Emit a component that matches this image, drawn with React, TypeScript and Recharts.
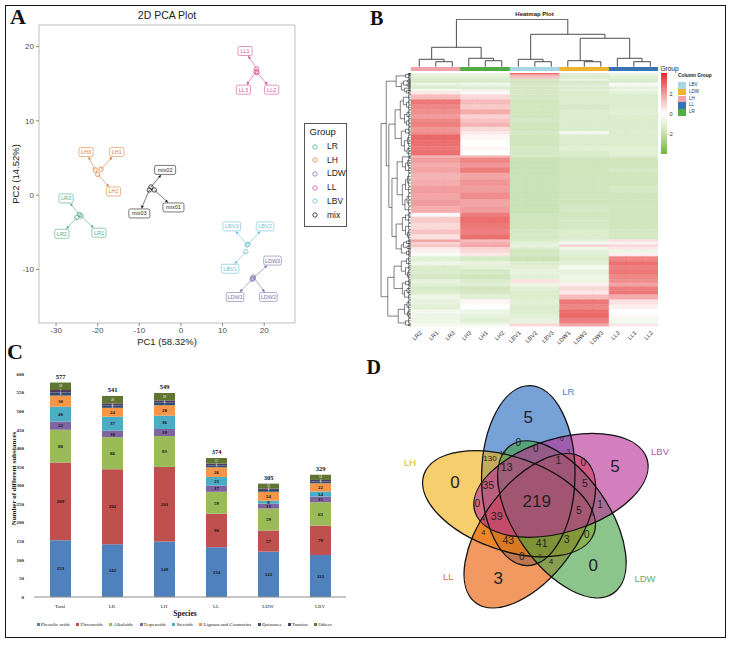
import React from 'react';
import {
  ScatterChart,
  Scatter,
  XAxis,
  YAxis,
  ReferenceLine,
  ReferenceArea,
  BarChart,
  Bar,
  Cell,
  LabelList,
} from 'recharts';

const SANS = '"Liberation Sans", Arial, sans-serif';
const SERIF = '"Liberation Serif", "Times New Roman", serif';

// ---------------------------------------------------------------------------
// A — PCA scores
// ---------------------------------------------------------------------------
const pcaGroups = ['LR', 'LH', 'LDW', 'LL', 'LBV', 'mix'];
const pcaNames = ['LR1', 'LR2', 'LR3', 'LH1', 'LH2', 'LH3', 'mix01', 'mix02', 'mix03',
  'LBV1', 'LBV2', 'LBV3', 'LDW1', 'LDW2', 'LDW3', 'LL1', 'LL2', 'LL3'];
const pcaGroupOf = ['LR', 'LR', 'LR', 'LH', 'LH', 'LH', 'mix', 'mix', 'mix',
  'LBV', 'LBV', 'LBV', 'LDW', 'LDW', 'LDW', 'LL', 'LL', 'LL'];
const pc1 = [-24.0, -25.0, -24.4, -19.2, -20.0, -20.6, -6.4, -7.2, -7.6,
  15.6, 16.1, 15.9, 17.1, 17.4, 17.3, 18.2, 18.3, 18.0];
const pc2 = [-2.8, -3.0, -2.6, 3.5, 2.8, 3.4, 0.7, 1.1, 0.7,
  -7.6, -6.6, -6.7, -11.3, -11.0, -11.2, 17.0, 16.5, 16.6];
// where the repelled sample labels sit (PC units)
const labelPC1 = [-19.7, -28.6, -27.6, -15.4, -16.2, -22.8, -1.8, -3.8, -10.0,
  11.8, 20.2, 12.2, 13.0, 21.0, 22.0, 15.4, 21.8, 15.0];
const labelPC2 = [-5.05, -5.2, -0.44, 5.8, 0.5, 5.8, -1.65, 3.4, -2.46,
  -9.9, -4.2, -4.2, -13.7, -13.7, -8.8, 19.4, 14.2, 14.2];

const pcaColors: Record<string, string> = {
  LR: '#4dab84',
  LH: '#df8140',
  LDW: '#7a73ad',
  LL: '#d64f97',
  LBV: '#6cc0d6',
  mix: '#1f1f1f',
};

const PCA_X: [number, number] = [-34.1, 27.4];
const PCA_Y: [number, number] = [-17.2, 22.9];
const PX_X = 256 / (PCA_X[1] - PCA_X[0]);
const PX_Y = 298 / (PCA_Y[1] - PCA_Y[0]);

const boxWidth = (name: string) => name.length * 3.4 + 4;

const arrows = pcaNames.map((name, i) => {
  const hw = boxWidth(name) / 2 + 0.6;
  const hh = 5;
  const dxp = (pc1[i] - labelPC1[i]) * PX_X;
  const dyp = (pc2[i] - labelPC2[i]) * PX_Y;
  const t = Math.min(hw / Math.max(Math.abs(dxp), 1e-6), hh / Math.max(Math.abs(dyp), 1e-6));
  return {
    group: pcaGroupOf[i],
    from: { x: pc1[i], y: pc2[i] },
    to: { x: labelPC1[i] + t * (pc1[i] - labelPC1[i]), y: labelPC2[i] + t * (pc2[i] - labelPC2[i]) },
    show: t < 1,
  };
});

const labelData = pcaNames.map((name, i) => ({ x: labelPC1[i], y: labelPC2[i], name, group: pcaGroupOf[i] }));

const LabelBox = (props: any) => {
  const { cx, cy, payload } = props;
  const c = pcaColors[payload.group];
  const w = boxWidth(payload.name);
  return (
    <g>
      <rect x={cx - w / 2} y={cy - 4.5} width={w} height={9} rx={1.6} fill="#fff" stroke={c} strokeWidth={0.6} />
      <text x={cx} y={cy} dy="0.36em" textAnchor="middle" fontSize={5.5} fontFamily={SANS} fill={c}>
        {payload.name}
      </text>
    </g>
  );
};

function PcaPanel() {
  const axisTick = { fontSize: 8, fill: '#4d4d4d', fontFamily: SANS };
  return (
    <ScatterChart width={300} height={350} margin={{ top: 25, right: 5, bottom: 0, left: 0 }}>
      <XAxis type="number" dataKey="x" domain={PCA_X} ticks={[-30, -20, -10, 0, 10, 20]} allowDataOverflow
        axisLine={false} tickLine={{ stroke: '#8c8c8c' }} tickSize={3} tickMargin={1} tick={axisTick} height={27} />
      <YAxis type="number" dataKey="y" domain={PCA_Y} ticks={[-10, 0, 10, 20]} allowDataOverflow
        axisLine={false} tickLine={{ stroke: '#8c8c8c' }} tickSize={3} tick={axisTick} width={39} />
      <ReferenceArea x1={PCA_X[0]} x2={PCA_X[1]} y1={PCA_Y[0]} y2={PCA_Y[1]} fill="none" fillOpacity={0}
        stroke="#bdbdbd" strokeWidth={1} ifOverflow="visible" />
      {arrows.filter((a) => a.show).map((a, i) => (
        <ReferenceLine key={`ar${i}`} segment={[a.from, a.to]} stroke={pcaColors[a.group]} strokeWidth={0.6}
          markerEnd={`url(#arrow-${a.group})`} ifOverflow="visible" />
      ))}
      {pcaGroups.map((g) => (
        <Scatter key={g} isAnimationActive={false}
          data={pcaNames.map((n, i) => ({ x: pc1[i], y: pc2[i], g: pcaGroupOf[i] })).filter((d) => d.g === g)}
          shape={(p: any) => <circle cx={p.cx} cy={p.cy} r={2.2} fill="none" stroke={pcaColors[g]} strokeWidth={0.8} />} />
      ))}
      <Scatter data={labelData} isAnimationActive={false} shape={LabelBox} />
    </ScatterChart>
  );
}

// ---------------------------------------------------------------------------
// B — heatmap (row bands of z-scores per group) and dendrograms
// ---------------------------------------------------------------------------
const heatSamples = ['LR2', 'LR1', 'LR3', 'LH3', 'LH1', 'LH2', 'LBV1', 'LBV2', 'LBV3',
  'LDW1', 'LDW2', 'LDW3', 'LL3', 'LL1', 'LL2'];
const heatSampleGroup = [0, 0, 0, 1, 1, 1, 2, 2, 2, 3, 3, 3, 4, 4, 4];
const heatGroupColors = ['#f2a2aa', '#52ab45', '#a8d7e3', '#f1b431', '#3873b4'];

// rows per band
const heatRows = [4, 4, 10, 6, 6, 6, 6, 7, 6, 10, 15, 15, 15, 15, 12, 13, 12, 13, 10, 18,
  17, 14, 14, 7, 15, 15, 15, 20, 20, 20, 20, 20, 20, 12, 18, 20, 15, 15, 8, 7,
  8, 7, 10, 10, 15, 13, 12, 15, 15, 10, 10, 13, 12, 15, 15, 15, 13, 12, 17, 8];
const heatLR = [-0.3, -0.4, -0.5, -0.6, -0.7, -0.3, -0.5, -0.6, -0.2, 0.3, 0.9, 1.8, 1.6, 1.5, 1.3, 1.6, 1.7, 1.4, 1.5, 2.0,
  1.9, 1.8, 1.9, 1.0, 1.3, 1.1, 1.2, 1.0, 1.1, 1.3, 1.2, 1.3, 1.1, 0.1, 0.7, 0.5, 0.8, 0.4, 1.2, 0.6,
  0.8, 0.3, 0.2, -0.1, -0.5, -0.3, -0.6, -0.6, -0.7, -0.4, -0.5, -0.7, -0.6, -0.3, -0.4, -0.5, -0.2, -0.3, -0.3, -0.2];
const heatLH = [-0.3, -0.4, -0.5, -0.6, -0.6, -0.2, -0.4, -0.6, -0.3, 0.1, 0.5, 0.9, 0.7, 1.1, 0.6, 0.8, 1.0, 0.5, 0.3, 0.1,
  0.0, 0.1, 0.0, 1.0, 1.6, 1.4, 1.7, 1.2, 1.4, 1.3, 1.5, 1.2, 1.3, 1.7, 1.9, 1.8, 1.7, 1.9, 0.9, 1.1,
  1.2, 0.6, 0.5, 0.3, -0.7, -0.4, -0.5, -0.7, -0.8, -0.6, -0.5, -0.8, -0.7, -0.5, 0.1, 0.0, -0.3, -0.4, -0.5, -0.2];
const heatLBV = [1.9, 1.4, 0.8, -0.7, -0.8, -0.7, -0.6, -0.7, -0.7, -0.7, -0.7, -0.8, -0.8, -0.8, -0.8, -0.7, -0.8, -0.8, -0.7, -0.8,
  -0.8, -0.7, -0.7, -0.7, -0.9, -0.9, -0.9, -0.9, -0.9, -0.9, -0.9, -0.9, -0.9, -0.8, -0.8, -0.8, -0.7, -0.7, -0.6, -0.5,
  -0.4, -0.6, -0.8, -0.7, -0.9, -0.6, -0.5, -0.4, -0.5, 0.4, -0.3, -0.5, -0.6, -0.6, -0.5, -0.6, -0.6, -0.5, -0.4, 0.5];
const heatLDW = [-0.5, -0.6, -0.6, -0.3, -0.7, -0.6, -0.5, -0.6, -0.5, -0.6, -0.6, -0.6, -0.7, -0.6, -0.6, -0.6, -0.6, -0.6, -0.2, -0.6,
  -0.6, -0.5, -0.6, -0.7, -0.8, -0.8, -0.8, -0.8, -0.8, -0.8, -0.8, -0.8, -0.7, -0.8, -0.7, -0.7, -0.6, -0.6, -0.4, -0.2,
  0.6, -0.3, -0.4, -0.5, -0.6, -0.5, -0.2, -0.4, -0.3, -0.3, 0.2, 0.5, 0.3, 0.9, 1.8, 1.6, 1.9, 2.0, 1.7, 1.2];
const heatLL = [-0.4, -0.3, -0.5, -0.6, -0.6, 0.1, -0.2, -0.5, -0.3, -0.5, -0.6, -0.6, -0.6, -0.5, -0.6, -0.6, -0.6, -0.6, -0.6, -0.6,
  -0.6, -0.5, -0.5, -0.6, -0.8, -0.8, -0.7, -0.8, -0.8, -0.7, -0.8, -0.8, -0.8, -0.8, -0.8, -0.8, -0.7, -0.7, 0.4, 0.2,
  0.5, 0.3, -0.3, 0.2, 1.6, 1.9, 1.7, 1.8, 1.6, 1.5, 1.2, 1.7, 1.8, 1.1, 0.4, 0.2, 0.0, 0.1, -0.2, 0.3];
const heatByGroup = [heatLR, heatLH, heatLBV, heatLDW, heatLL];

type Tree = number | [Tree, Tree, number];
// sample clustering (heights in px above the group bar)
const colTree: Tree = [
  [[0, [1, 2, 5.0], 7.4], [3, [4, 5, 6.0], 8.4], 19.4],
  [[6, [7, 8, 5.0], 7.4], [[9, [10, 11, 5.0], 6.0], [12, [13, 14, 5.0], 8.4], 28.4], 32.4],
  47.4,
];
// metabolite clustering over the row bands
const rowTree: Tree = [
  [
    [[[0, 1, 2.5], 2, 5], [[[3, 4, 3], [5, 6, 3.5], 7], [7, [8, 9, 4], 6], 9], 14],
    [
      [[[10, [11, 12, 4], 7], [[13, 14, 3.5], [15, 16, 4], 6], 10], [[17, 18, 5], [[19, 20, 3], [21, 22, 3.5], 6], 9], 15],
      [
        [[23, [[24, 25, 3], 26, 5], 8], [[[27, 28, 3], 29, 5], [[30, 31, 3.5], 32, 5.5], 8], 13],
        [[[33, 34, 5], [35, [36, 37, 3], 5], 8], [[[38, 39, 4], [40, 41, 3.5], 7], [42, 43, 4], 9], 14],
        18,
      ],
      21,
    ],
    23.5,
  ],
  [
    [[[44, 45, 4], [46, [47, 48, 3], 5], 9], [[49, 50, 5], [[51, 52, 3.5], 53, 6], 8], 16],
    [[[54, 55, 3.5], [56, 57, 3], 6], [58, 59, 5], 12],
    22,
  ],
  28.5,
];

const ROW_UNITS = heatRows.reduce((a, b) => a + b, 0);
const bandTop: number[] = [];
heatRows.reduce((acc, r, i) => { bandTop[i] = acc; return acc + r; }, 0);

type Seg = [number, number, number, number]; // pos1, h1, pos2, h2
function walkTree(node: Tree, leafPos: (i: number) => number, leafH: number, segs: Seg[]): { p: number; h: number } {
  if (typeof node === 'number') return { p: leafPos(node), h: leafH };
  const a = walkTree(node[0], leafPos, leafH, segs);
  const b = walkTree(node[1], leafPos, leafH, segs);
  const h = node[2];
  segs.push([a.p, a.h, a.p, h], [b.p, b.h, b.p, h], [a.p, h, b.p, h]);
  return { p: (a.p + b.p) / 2, h };
}

const colSegs: Seg[] = [];
walkTree(colTree, (i) => i, 0, colSegs);

const LEAF_H = 2;
const rowSegs: Seg[] = [];
walkTree(rowTree, (i) => bandTop[i] + heatRows[i] / 2, LEAF_H, rowSegs);
heatRows.forEach((r, i) => {
  const t = bandTop[i] + 1.5;
  const b = bandTop[i] + r - 1.5;
  const m = bandTop[i] + r / 2;
  rowSegs.push([t, LEAF_H, b, LEAF_H], [t, LEAF_H, t, 0], [m, LEAF_H, m, 0], [b, LEAF_H, b, 0]);
});

const RED = [228, 52, 52];
const GREEN = [116, 181, 60];
function heatColor(v: number) {
  const end = v >= 0 ? RED : GREEN;
  const t = Math.min(Math.abs(v) / (v >= 0 ? 2.7 : 2.4), 1);
  const c = end.map((e) => Math.round(255 + (e - 255) * t));
  return `rgb(${c[0]},${c[1]},${c[2]})`;
}

const heatData = heatSamples.map((s) => {
  const row: Record<string, string | number> = { sample: s };
  heatRows.forEach((r, i) => { row[`b${i}`] = r; });
  return row;
});

const HM_LEFT = 410.7;
const HM_TOP = 73.3;
const HM_W = 247.6;
const HM_H = 253.4;

function Heatmap() {
  return (
    <BarChart width={HM_W} height={HM_H + 24} data={heatData} margin={{ top: 0, right: 0, bottom: 0, left: 0 }}
      barCategoryGap={0}>
      <XAxis dataKey="sample" height={24} interval={0} tickLine={false} axisLine={false} tickSize={3} tickMargin={1}
        tick={{ fontSize: 5.8, fill: '#333', fontFamily: SANS, angle: -45, textAnchor: 'end' }} />
      <YAxis hide type="number" domain={[0, ROW_UNITS]} reversed allowDataOverflow />
      {heatRows.map((_, i) => (
        <Bar key={i} dataKey={`b${i}`} stackId="h" isAnimationActive={false}>
          {heatSamples.map((s, j) => {
            const col = heatColor(heatByGroup[heatSampleGroup[j]][i]);
            return <Cell key={s} fill={col} stroke={col} strokeWidth={0.5} />;
          })}
        </Bar>
      ))}
    </BarChart>
  );
}

function GroupBar() {
  return (
    <BarChart width={HM_W} height={4} data={heatSamples.map((s) => ({ sample: s, v: 1 }))}
      margin={{ top: 0, right: 0, bottom: 0, left: 0 }} barCategoryGap={0}>
      <XAxis hide dataKey="sample" />
      <YAxis hide type="number" domain={[0, 1]} />
      <Bar dataKey="v" isAnimationActive={false}>
        {heatSamples.map((s, j) => {
          const c = heatGroupColors[heatSampleGroup[j]];
          return <Cell key={s} fill={c} stroke={c} strokeWidth={0.4} />;
        })}
      </Bar>
    </BarChart>
  );
}

function ColDendro() {
  return (
    <ScatterChart width={HM_W} height={47.7} margin={{ top: 0, right: 0, bottom: 0, left: 0 }}>
      <XAxis hide type="number" dataKey="x" domain={[-0.5, 14.5]} allowDataOverflow />
      <YAxis hide type="number" dataKey="y" domain={[0, 47.7]} allowDataOverflow />
      <Scatter data={[{ x: 0, y: 0 }]} isAnimationActive={false} shape={() => <g />} />
      {colSegs.map((s, i) => (
        <ReferenceLine key={i} segment={[{ x: s[0], y: s[1] }, { x: s[2], y: s[3] }]} stroke="#3a3a3a"
          strokeWidth={0.9} ifOverflow="visible" />
      ))}
    </ScatterChart>
  );
}

function RowDendro() {
  return (
    <ScatterChart width={30.7} height={HM_H} margin={{ top: 0, right: 0, bottom: 0, left: 0 }}>
      <XAxis hide type="number" dataKey="x" domain={[0, 29.5]} reversed allowDataOverflow />
      <YAxis hide type="number" dataKey="y" domain={[0, ROW_UNITS]} reversed allowDataOverflow />
      <Scatter data={[{ x: 0, y: 0 }]} isAnimationActive={false} shape={() => <g />} />
      {rowSegs.map((s, i) => (
        <ReferenceLine key={i} segment={[{ x: s[1], y: s[0] }, { x: s[3], y: s[2] }]} stroke="#1a1a1a"
          strokeWidth={0.55} ifOverflow="visible" />
      ))}
    </ScatterChart>
  );
}

// ---------------------------------------------------------------------------
// C — classes of substances per species
// ---------------------------------------------------------------------------
const speciesNames = ['Total', 'LR', 'LH', 'LL', 'LDW', 'LBV'];
const phenolicAcids = [153, 142, 149, 134, 122, 113];
const flavonoids = [209, 202, 201, 90, 57, 79];
const alkaloids = [88, 86, 83, 59, 59, 63];
const terpenoids = [22, 18, 19, 17, 13, 15];
const steroids = [40, 37, 36, 23, 8, 14];
const lignansCoumarins = [30, 24, 28, 26, 24, 22];
const quinones = [8, 6, 7, 5, 5, 5];
const tannins = [7, 6, 6, 5, 4, 4];
const others = [20, 20, 20, 15, 13, 14];

const classSeries = [
  { key: 'phenolic', name: 'Phenolic acids', values: phenolicAcids, color: '#4f81bd' },
  { key: 'flavonoids', name: 'Flavonoids', values: flavonoids, color: '#c0504d' },
  { key: 'alkaloids', name: 'Alkaloids', values: alkaloids, color: '#9bbb59' },
  { key: 'terpenoids', name: 'Terpenoids', values: terpenoids, color: '#8064a2' },
  { key: 'steroids', name: 'Steroids', values: steroids, color: '#4bacc6' },
  { key: 'lignans', name: 'Lignans and Coumarins', values: lignansCoumarins, color: '#f79646' },
  { key: 'quinones', name: 'Quinones', values: quinones, color: '#2c4d75' },
  { key: 'tannins', name: 'Tannins', values: tannins, color: '#4d3b62' },
  { key: 'others', name: 'Others', values: others, color: '#5f7530' },
];

const classRows = speciesNames.map((s, i) => {
  const row: Record<string, string | number> = { species: s };
  let total = 0;
  classSeries.forEach((c) => { row[c.key] = c.values[i]; total += c.values[i]; });
  row.total = total;
  return row;
});

function ClassBars() {
  const last = classSeries.length - 1;
  return (
    <BarChart width={360} height={300} data={classRows} margin={{ top: 34, right: 14, bottom: 0, left: 0 }} barSize={21}>
      <XAxis dataKey="species" height={43} interval={0} tickLine={false} axisLine={{ stroke: '#8a8a8a' }} tickSize={5}
        tickMargin={2} tick={{ fontSize: 5, fill: '#222', fontFamily: SERIF }} />
      <YAxis type="number" domain={[0, 600]} ticks={[0, 50, 100, 150, 200, 250, 300, 350, 400, 450, 500, 550, 600]}
        width={34} axisLine={false} tickLine={false} tickMargin={4}
        tick={{ fontSize: 5, fontWeight: 'bold', fill: '#222', fontFamily: SERIF }} />
      {classSeries.map((c, i) => (
        <Bar key={c.key} dataKey={c.key} stackId="s" fill={c.color} isAnimationActive={false}>
          <LabelList dataKey={c.key} position="center" fontSize={i >= 6 ? 3 : 5} fontWeight="bold"
            fill={i >= 6 ? '#ddd' : '#111'} fontFamily={SERIF} />
          {i === last && (
            <LabelList dataKey="total" position="top" offset={4} fontSize={6.5} fontWeight="bold" fill="#111"
              fontFamily={SERIF} />
          )}
        </Bar>
      ))}
    </BarChart>
  );
}

// ---------------------------------------------------------------------------
// D — five-set Venn
// ---------------------------------------------------------------------------
const vennSets = ['LR', 'LBV', 'LDW', 'LL', 'LH'];
const vennFill = ['#2269bf', '#b83094', '#45a245', '#e95b00', '#f1b013'];
const vennText = ['#4a86c8', '#c050a0', '#5fb060', '#e07040', '#e2b02e'];
// one ellipse, turned by 72 degrees for each set (px, y up, about the figure centre)
const VENN_A = 90;
const VENN_B = 46.7;
const vennEllipses = vennSets.map((s, k) => {
  const r = Math.hypot(9.7, 27.3);
  const ang = ((109.56 - 72 * k) * Math.PI) / 180;
  return { x: r * Math.cos(ang), y: r * Math.sin(ang), tilt: 89 - 72 * k, k };
});
const drawOrder = [0, 4, 3, 2, 1];

const vennCounts = ['5', '5', '0', '3', '0', '219',
  '13', '1', '35', '5', '39', '5', '43', '41', '3', '0', '0', '0', '0', '1', '0', '0',
  '130', '4', '4', '0', '3',
  '13', '4', '0', '0'];
const vennSpotX = [-9.7, 77, -83, -39.7, 55.3, -1.3,
  -31.3, 20.3, -49.7, 47, -41.3, 41, -29.7, 3.7, 28.7, -19.7, -2.3, 45.3, -60.7, 62, 48.7, -16.3,
  -48, -54.7, 13, 23.7, 30.3,
  -35.3, -54.7, 53.7, 2];
const vennSpotY = [86.6, 37.3, 21.6, -75, -61.7, 2.6,
  36, 42.6, 17.6, 19.3, -13.4, -7.4, -37.7, -40.7, -36.7, 60.6, 54.6, 40.6, 0, -1.7, -31, -53.4,
  44.6, -29, -58, 64, 51.6,
  50, -15.7, -10.7, -52.7];
const vennSpotSize = [17, 17, 17, 17, 17, 17,
  10.5, 10.5, 10.5, 10.5, 10.5, 10.5, 10.5, 10.5, 10.5, 10, 10, 10, 10, 10, 10, 10,
  8, 7.5, 8, 6.5, 6.5,
  5.5, 6, 5, 5.5];
const vennSetLabelX = [30.3, 122, 107, -89.7, -128];
const vennSetLabelY = [111.6, 51.6, -76, -73.4, 40];

const VENN_R = 145;

function Venn() {
  const ellData = drawOrder.map((k) => vennEllipses[k]);
  const ellShape = (outline: boolean) => (p: any) => {
    const e = p.payload;
    return (
      <ellipse cx={p.cx} cy={p.cy} rx={VENN_A} ry={VENN_B} transform={`rotate(${-e.tilt} ${p.cx} ${p.cy})`}
        fill={outline ? 'none' : vennFill[e.k]} fillOpacity={outline ? 0 : 0.62}
        stroke={outline ? '#111' : 'none'} strokeWidth={1.3} />
    );
  };
  const counts = vennCounts.map((c, i) => ({ x: vennSpotX[i], y: vennSpotY[i], c, s: vennSpotSize[i] }));
  const setLabels = vennSets.map((s, i) => ({ x: vennSetLabelX[i], y: vennSetLabelY[i], s, i }));
  return (
    <ScatterChart width={VENN_R * 2} height={VENN_R * 2} margin={{ top: 0, right: 0, bottom: 0, left: 0 }}>
      <XAxis hide type="number" dataKey="x" domain={[-VENN_R, VENN_R]} allowDataOverflow />
      <YAxis hide type="number" dataKey="y" domain={[-VENN_R, VENN_R]} allowDataOverflow />
      <Scatter data={ellData} isAnimationActive={false} shape={ellShape(false)} />
      <Scatter data={ellData} isAnimationActive={false} shape={ellShape(true)} />
      <Scatter data={counts} isAnimationActive={false}
        shape={(p: any) => (
          <text x={p.cx} y={p.cy} dy="0.36em" textAnchor="middle" fontSize={p.payload.s} fontFamily={SANS} fill="#222">
            {p.payload.c}
          </text>
        )} />
      <Scatter data={setLabels} isAnimationActive={false}
        shape={(p: any) => (
          <text x={p.cx} y={p.cy} dy="0.36em" textAnchor="middle" fontSize={9.5} fontFamily={SANS}
            fill={vennText[p.payload.i]}>
            {p.payload.s}
          </text>
        )} />
    </ScatterChart>
  );
}

// ---------------------------------------------------------------------------
const abs = (left: number, top: number, extra: React.CSSProperties = {}): React.CSSProperties => ({
  position: 'absolute', left, top, ...extra,
});

const letter = (ch: string, left: number, top: number, size: number) => (
  <div style={abs(left, top, { fontFamily: SERIF, fontWeight: 'bold', fontSize: size, lineHeight: 1, color: '#111' })}>{ch}</div>
);

const columnLegend = ['LBV', 'LDW', 'LH', 'LL', 'LR'];
const columnLegendColors = ['#a8d7e3', '#f1b431', '#f2a2aa', '#3873b4', '#52ab45'];

export default function App() {
  return (
    <div style={{ position: 'absolute', left: 0, top: 0, width: 732, height: 645, background: '#fff', overflow: 'hidden', fontFamily: SANS }}>
      <svg width={0} height={0} style={{ position: 'absolute' }}>
        <defs>
          {pcaGroups.map((g) => (
            <marker key={g} id={`arrow-${g}`} viewBox="0 0 6 6" refX={6} refY={3} markerWidth={3} markerHeight={3}
              orient="auto" markerUnits="userSpaceOnUse">
              <path d="M0,0 L6,3 L0,6 z" fill={pcaColors[g]} />
            </marker>
          ))}
        </defs>
      </svg>
      <div style={abs(5, 5, { width: 721, height: 633, border: '1.6px solid #151515', boxSizing: 'border-box' })} />

      {/* A */}
      <div style={abs(0, 0)}><PcaPanel /></div>
      {letter('A', 10, 6, 22)}
      <div style={abs(67, 9, { width: 200, textAlign: 'center', fontSize: 10.5, lineHeight: '12px', color: '#222' })}>2D PCA Plot</div>
      <div style={abs(67, 336.5, { width: 200, textAlign: 'center', fontSize: 9.5, lineHeight: '10px', color: '#222' })}>PC1 (58.32%)</div>
      <div style={abs(16 - 100, 174 - 6, { width: 200, textAlign: 'center', fontSize: 9.5, lineHeight: '12px', color: '#222', transform: 'rotate(-90deg)' })}>PC2 (14.52%)</div>
      <div style={abs(304, 122.7, { width: 42.7, height: 104, border: '1px solid #555', boxSizing: 'border-box' })} />
      <div style={abs(309.5, 126, { fontSize: 9.5, lineHeight: '12px', color: '#222' })}>Group</div>
      {pcaGroups.map((g, i) => (
        <div key={g} style={abs(311, 141 + i * 13.7, { display: 'flex', alignItems: 'center', fontSize: 8.5, lineHeight: '11px', color: '#222' })}>
          <svg width={8} height={8} style={{ marginRight: 8 }}>
            <circle cx={4} cy={4} r={2.2} fill="none" stroke={pcaColors[g]} strokeWidth={0.8} />
          </svg>
          {g}
        </div>
      ))}

      {/* B */}
      {letter('B', 370, 8.2, 20)}
      <div style={abs(HM_LEFT, 10.5, { width: HM_W, textAlign: 'center', fontSize: 6, fontWeight: 'bold', lineHeight: '7px', color: '#222' })}>Heatmap Plot</div>
      <div style={abs(HM_LEFT, 19)}><ColDendro /></div>
      <div style={abs(HM_LEFT, 66.7)}><GroupBar /></div>
      <div style={abs(HM_LEFT, HM_TOP)}><Heatmap /></div>
      <div style={abs(380, HM_TOP)}><RowDendro /></div>
      <div style={abs(660.5, 65, { fontSize: 6.5, lineHeight: '7px', color: '#222' })}>Group</div>
      <div style={abs(661, 73.3, { width: 5.8, height: 80.7, background: 'linear-gradient(to bottom, #e3282c 0%, #f5a8a6 28%, #ffffff 50%, #cfe5b6 72%, #74b53c 100%)' })} />
      {[['2', 94], ['0', 114], ['-2', 134]].map(([t, y]) => (
        <div key={t} style={abs(t === '-2' ? 668 : 669.5, (y as number) - 3, { fontSize: 5.5, lineHeight: '6px', color: '#333' })}>{t}</div>
      ))}
      <div style={abs(678, 73.2, { fontSize: 4.8, fontWeight: 'bold', lineHeight: '5px', color: '#222', whiteSpace: 'nowrap' })}>Column Group</div>
      {columnLegend.map((g, i) => (
        <div key={g} style={abs(678, 81.7 + i * 6.9, { display: 'flex', alignItems: 'center', fontSize: 4.5, lineHeight: '6.9px', color: '#333' })}>
          <span style={{ display: 'inline-block', width: 8, height: 6.9, background: columnLegendColors[i], marginRight: 3 }} />
          {g}
        </div>
      ))}

      {/* C */}
      <div style={abs(0, 340)}><ClassBars /></div>
      {letter('C', 7, 341, 22)}
      <div style={abs(13.7 - 100, 478.7 - 4.5, { width: 200, textAlign: 'center', fontFamily: SERIF, fontWeight: 'bold', fontSize: 7, lineHeight: '9px', color: '#111', transform: 'rotate(-90deg)' })}>
        Number of different substances
      </div>
      <div style={abs(135, 608.5, { width: 100, textAlign: 'center', fontFamily: SERIF, fontWeight: 'bold', fontSize: 7.5, lineHeight: '9px', color: '#111' })}>Species</div>
      <div style={abs(36.7, 621.5, { width: 295, display: 'flex', justifyContent: 'space-between', fontFamily: SERIF, fontSize: 5, lineHeight: '6px', color: '#222', whiteSpace: 'nowrap' })}>
        {classSeries.map((c) => (
          <span key={c.key} style={{ display: 'flex', alignItems: 'center' }}>
            <span style={{ display: 'inline-block', width: 3, height: 3, background: c.color, marginRight: 1 }} />
            {c.name}
          </span>
        ))}
      </div>

      {/* D */}
      {letter('D', 366.5, 356.5, 20)}
      <div style={abs(538 - VENN_R, 503.3 - VENN_R)}><Venn /></div>
    </div>
  );
}
